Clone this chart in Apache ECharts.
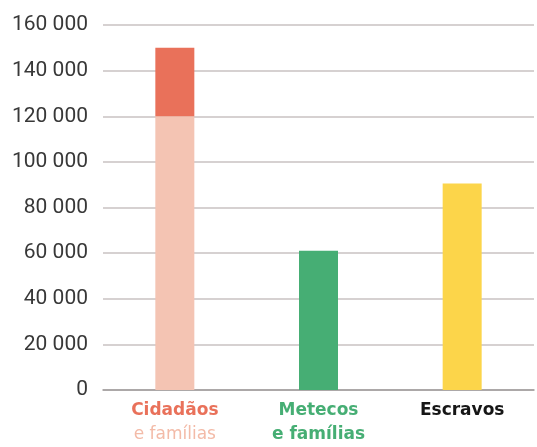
<!DOCTYPE html>
<html>
<head>
<meta charset="utf-8">
<script src="https://cdn.jsdelivr.net/npm/echarts@6/dist/echarts.min.js"></script>
<style>
  html, body { margin: 0; padding: 0; background: #fff; }
  #chart { width: 537px; height: 447px; }
</style>
</head>
<body>
<div id="chart"></div>
<script>
const categories = ['Cidadãos\ne famílias', 'Metecos\ne famílias', 'Escravos']
const baseValues = [120000, 61000, 90500]
const topValues = [30000, null, null]
const barColors = ['#f4c4b3', '#46ae74', '#fcd54a']
const topColor = '#e9715a'
const yTicks = { min: 0, max: 160000, step: 20000 }

const chart = echarts.init(document.getElementById('chart'))

function thousands(v) {
  return String(v).replace(/\B(?=(\d{3})+(?!\d))/g, ' ')
}

const labelFont = { fontFamily: 'DejaVu Sans', fontSize: 17, lineHeight: 24 }

chart.setOption({
  animation: false,
  grid: { left: 103, right: 3, top: 25, bottom: 57 },
  xAxis: {
    type: 'category',
    data: categories,
    axisLine: { lineStyle: { color: '#9e9a9a', width: 1.5 } },
    axisTick: { show: false },
    axisLabel: {
      interval: 0,
      margin: 9,
      formatter: (value, index) => {
        const lines = value.split('\n')
        return lines.map((l, i) => `{s${index}${i}|${l}}`).join('\n')
      },
      rich: {
        s00: { ...labelFont, fontWeight: 'bold', color: '#e9715a' },
        s01: { ...labelFont, fontWeight: 'normal', color: '#f3bba8' },
        s10: { ...labelFont, fontWeight: 'bold', color: '#46ae74' },
        s11: { ...labelFont, fontWeight: 'bold', color: '#46ae74' },
        s20: { ...labelFont, fontWeight: 'bold', color: '#161616' }
      }
    }
  },
  yAxis: {
    type: 'value',
    min: yTicks.min,
    max: yTicks.max,
    interval: yTicks.step,
    axisLine: { show: false },
    axisTick: { show: false },
    axisLabel: {
      margin: 15,
      color: '#383838',
      fontFamily: 'Roboto',
      fontSize: 21,
      formatter: (v) => thousands(v)
    },
    splitLine: { lineStyle: { color: '#c9c2c2', width: 1.5 } }
  },
  series: [
    {
      type: 'bar',
      stack: 'total',
      barWidth: 39,
      data: baseValues.map((v, i) => ({ value: v, itemStyle: { color: barColors[i] } }))
    },
    {
      type: 'bar',
      stack: 'total',
      barWidth: 39,
      itemStyle: { color: topColor },
      data: topValues.map((v) => (v == null ? '-' : v))
    }
  ]
})
</script>
</body>
</html>
